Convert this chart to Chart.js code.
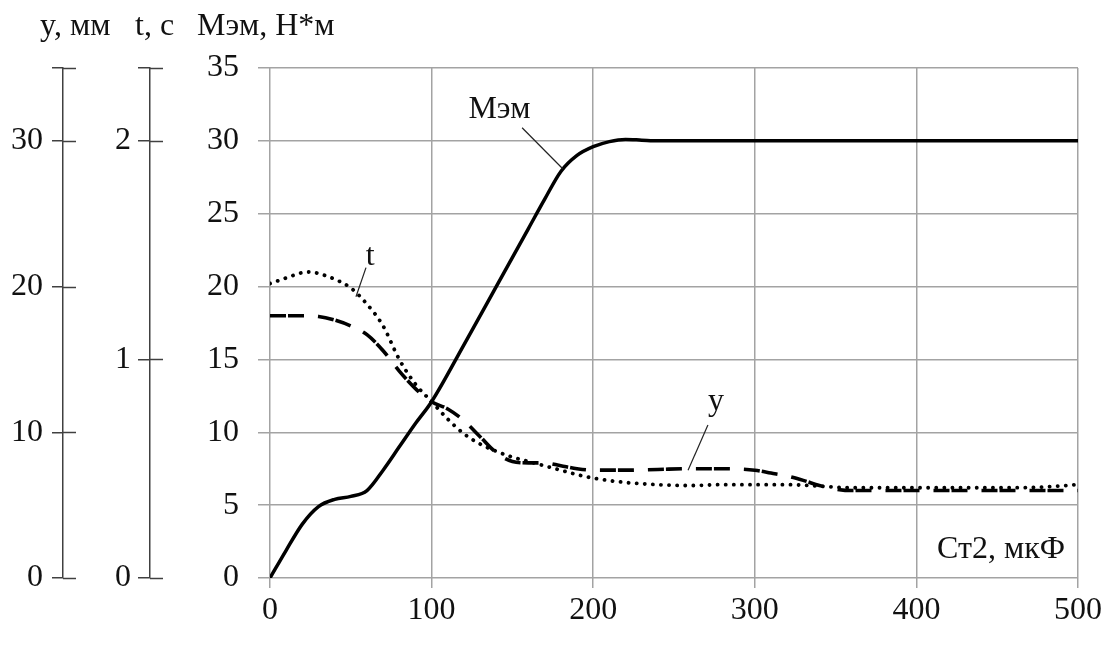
<!DOCTYPE html>
<html>
<head>
<meta charset="utf-8">
<script src="https://cdn.jsdelivr.net/npm/chart.js@4/dist/chart.umd.min.js"></script>
<style>
html,body{margin:0;padding:0;background:#fff;}
#wrap{width:1108px;height:645px;position:relative;}
</style>
</head>
<body>
<div id="wrap"><canvas id="c" width="1108" height="645"></canvas></div>
<script>
// Ст2, мкФ (x axis)
const xTicks = [0, 100, 200, 300, 400, 500];
const mainTicksMax = 35;

// Мэм, Н*м
const memX = [0, 10, 20, 30, 40, 50, 60, 70, 80, 90, 100, 120, 140, 160, 170, 180, 190, 200, 210, 220, 230, 240, 300, 400, 500];
const memY = [0, 1.9, 3.7, 4.9, 5.4, 5.6, 6.0, 7.4, 9.0, 10.6, 12.1, 16.0, 20.0, 24.0, 26.0, 27.9, 29.0, 29.6, 29.95, 30.1, 30.05, 30.0, 30.0, 30.0, 30.0];

// t, с
const tX = [0, 10, 20, 25, 30, 40, 50, 60, 70, 80, 90, 100, 110, 120, 130, 140, 150, 160, 170, 180, 190, 200, 220, 240, 260, 280, 300, 320, 340, 360, 380, 400, 420, 440, 460, 480, 500];
const tY = [1.347, 1.373, 1.397, 1.400, 1.393, 1.367, 1.327, 1.253, 1.153, 1.000, 0.887, 0.807, 0.727, 0.660, 0.613, 0.580, 0.553, 0.533, 0.513, 0.493, 0.473, 0.457, 0.437, 0.427, 0.423, 0.427, 0.427, 0.427, 0.420, 0.413, 0.413, 0.413, 0.413, 0.413, 0.413, 0.417, 0.427];

// y, мм
const yX = [0, 10, 20, 30, 40, 50, 60, 70, 80, 90, 100, 110, 120, 130, 140, 150, 160, 170, 180, 190, 200, 220, 240, 260, 280, 300, 310, 320, 330, 340, 350, 360, 380, 400, 450, 500];
const yY = [18.0, 18.0, 18.0, 17.95, 17.7, 17.3, 16.7, 15.6, 14.2, 13.0, 12.1, 11.6, 10.8, 9.7, 8.6, 8.0, 7.9, 7.9, 7.7, 7.5, 7.4, 7.4, 7.45, 7.5, 7.5, 7.4, 7.2, 7.0, 6.7, 6.35, 6.1, 6.0, 6.0, 6.0, 6.0, 6.0];

const yMMTickLabels = [0, 10, 20, 30];
const tTickLabels = [0, 1, 2];

const FONT = "'Liberation Serif', 'Times New Roman', serif";
const FS = 32;

function pts(xs, ys) { return xs.map((x, i) => ({x: x, y: ys[i]})); }

const annotations = [
  {text: 'Мэм', x: 142, y: 31.6, from: [156, 30.9], to: [181, 28.1]},
  {text: 't', x: 62, y: 21.5, from: [59.4, 21.3], to: [53.2, 19.3]},
  {text: 'y', x: 276, y: 11.55, from: [271, 10.5], to: [258.7, 7.4]}
];

const decor = {
  id: 'decor',
  afterDraw(chart) {
    const ctx = chart.ctx;
    const sx = chart.scales.x, sy = chart.scales.y;
    ctx.save();
    // crossing tick extensions for the two left axes
    ['yMM', 'tS'].forEach(id => {
      const s = chart.scales[id];
      ctx.strokeStyle = '#404040';
      ctx.lineWidth = 1.5;
      s.ticks.forEach(t => {
        const py = Math.round(s.getPixelForValue(t.value)) + 0.5;
        ctx.beginPath();
        ctx.moveTo(s.right, py);
        ctx.lineTo(s.right + 13, py);
        ctx.stroke();
      });
    });
    // axis titles
    ctx.fillStyle = '#111';
    ctx.font = FS + 'px ' + FONT;
    ctx.textAlign = 'left';
    ctx.textBaseline = 'alphabetic';
    ctx.fillText('y, мм', chart.scales.yMM.right - 23, 35);
    ctx.fillText('t, с', chart.scales.tS.right - 15, 35);
    ctx.fillText('Мэм, Н*м', sy.right - 73, 35);
    // x axis title inside plot
    ctx.textAlign = 'right';
    ctx.fillText('Ст2, мкФ', chart.chartArea.right - 13, 558);
    // curve labels with leader lines
    ctx.lineWidth = 1.2;
    ctx.strokeStyle = '#222';
    ctx.textAlign = 'center';
    annotations.forEach(a => {
      ctx.fillText(a.text, sx.getPixelForValue(a.x), sy.getPixelForValue(a.y));
      ctx.beginPath();
      ctx.moveTo(sx.getPixelForValue(a.from[0]), sy.getPixelForValue(a.from[1]));
      ctx.lineTo(sx.getPixelForValue(a.to[0]), sy.getPixelForValue(a.to[1]));
      ctx.stroke();
    });
    ctx.restore();
  }
};

new Chart(document.getElementById('c'), {
  type: 'line',
  data: {
    datasets: [
      {label: 'Мэм', data: pts(memX, memY), yAxisID: 'y', borderColor: '#000', borderWidth: 3.5, pointRadius: 0, cubicInterpolationMode: 'monotone', fill: false},
      {label: 'y', data: pts(yX, yY), yAxisID: 'yMM', borderColor: '#000', borderWidth: 3.6, borderDash: [16, 2, 16, 14], pointRadius: 0, cubicInterpolationMode: 'monotone', fill: false},
      {label: 't', data: pts(tX, tY), yAxisID: 'tS', borderColor: '#000', borderWidth: 3.8, borderDash: [0.1, 8], borderCapStyle: 'round', pointRadius: 0, cubicInterpolationMode: 'monotone', fill: false}
    ]
  },
  options: {
    responsive: false,
    animation: false,
    layout: {padding: {left: 0, top: 68, right: 30, bottom: 0}},
    plugins: {legend: {display: false}, tooltip: {enabled: false}, title: {display: false}},
    scales: {
      x: {
        type: 'linear', min: 0, max: 500,
        ticks: {stepSize: 100, color: '#111', font: {family: FONT, size: FS}, padding: 3, maxRotation: 0},
        grid: {color: '#a3a3a3', lineWidth: 1.5, tickLength: 10},
        border: {display: false},
        afterFit(s) { s.height = 67; }
      },
      yMM: {
        position: 'left', weight: 2, min: 0, max: 35,
        ticks: {stepSize: 10, color: '#111', font: {family: FONT, size: FS}, padding: 9,
          callback: v => yMMTickLabels.includes(v) ? String(v) : ''},
        grid: {drawOnChartArea: false, color: '#404040', lineWidth: 1.5, tickLength: 11},
        border: {display: true, color: '#404040', width: 1.5},
        afterFit(s) { s.width = 63; }
      },
      tS: {
        position: 'left', weight: 1, min: 0, max: 35 / 15,
        ticks: {stepSize: 1, color: '#111', font: {family: FONT, size: FS}, padding: 7,
          callback: v => tTickLabels.includes(v) ? String(v) : ''},
        grid: {drawOnChartArea: false, color: '#404040', lineWidth: 1.5, tickLength: 12},
        border: {display: true, color: '#404040', width: 1.5},
        afterFit(s) { s.width = 87; }
      },
      y: {
        position: 'left', weight: 0, min: 0, max: mainTicksMax,
        ticks: {stepSize: 5, color: '#111', font: {family: FONT, size: FS}, padding: 19},
        grid: {color: '#a3a3a3', lineWidth: 1.5, tickLength: 12},
        border: {display: false},
        afterFit(s) { s.width = 120; }
      }
    }
  },
  plugins: [decor]
});
</script>
</body>
</html>
